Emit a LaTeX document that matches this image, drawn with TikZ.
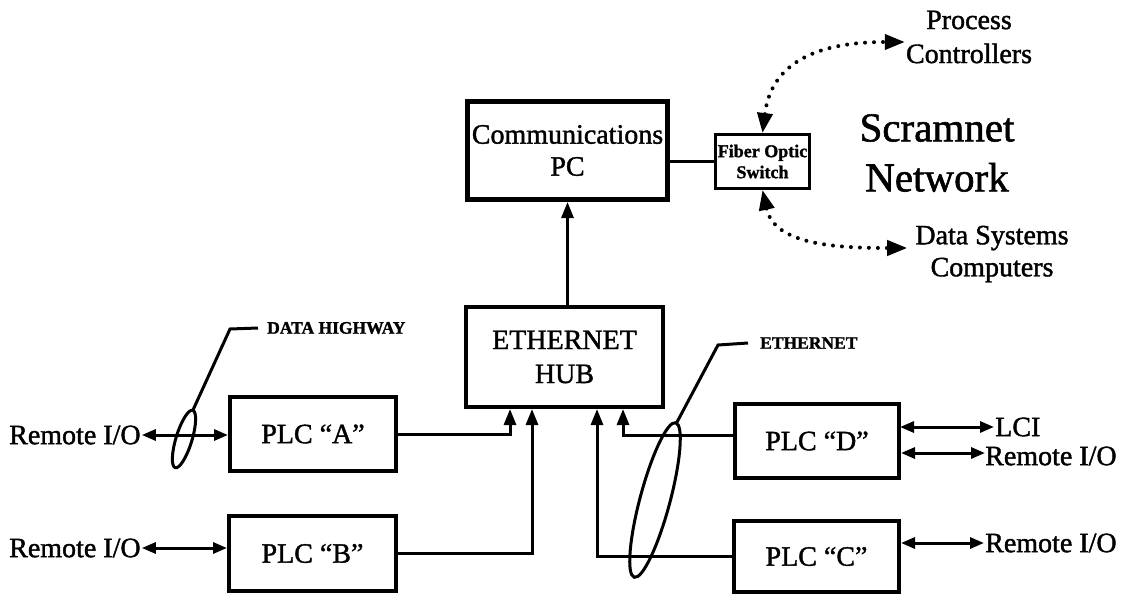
\documentclass[tikz,border=0pt]{standalone}
\usepackage{fontspec}
\setmainfont{Liberation Serif}[FakeBold=1.4]
\usetikzlibrary{arrows.meta}
\begin{document}
\begin{tikzpicture}[x=1pt,y=-1pt,
  box/.style={draw, line width=4pt, inner sep=0pt, font=\fontsize{28}{32}\selectfont, align=center},
  conn/.style={line width=3pt},
  uptip/.style={-{Triangle[length=16pt,width=12pt]}},
  dtip/.style={{Triangle[length=14pt,width=11pt]}-{Triangle[length=14pt,width=11pt]}},
  dotline/.style={line width=4pt, line cap=round, dash pattern=on 0pt off 9pt,
     {Triangle[length=20pt,width=15pt]}-{Triangle[length=20pt,width=15pt]}},
  lbl/.style={font=\fontsize{28}{34}\selectfont, align=center, inner sep=1pt},
  tag/.style={font=\bfseries\fontsize{17.5}{20}\selectfont, inner sep=0pt},
]
\useasboundingbox (0,0) rectangle (1123,596);

% boxes
\node[box, line width=5pt, minimum width=200pt, minimum height=98pt] (pc) at (567.5,150.5)
  {Communications\\PC};
\node[box, line width=3pt, minimum width=94pt, minimum height=54pt,
      font=\bfseries\fontsize{18}{21}\selectfont] (sw) at (762.5,161.5) {Fiber Optic\\Switch};
\node[box, minimum width=197pt, minimum height=100pt, font=\fontsize{28}{34}\selectfont] (hub) at (564.5,357) {ETHERNET\\HUB};
\node[box, minimum width=166pt, minimum height=74pt] (A) at (313,434) {PLC “A”};
\node[box, minimum width=167pt, minimum height=75pt] (B) at (312.5,553.5) {PLC “B”};
\node[box, minimum width=164pt, minimum height=74pt] (D) at (817,441) {PLC “D”};
\node[box, minimum width=165pt, minimum height=71pt] (C) at (816.5,556.5) {PLC “C”};

% labels
\node[lbl] (proc) at (969,37) {Process\\Controllers};
\node[lbl, font=\fontsize{41}{50}\selectfont] (scr) at (937,153) {Scramnet\\Network};
\node[lbl, font=\fontsize{28}{32}\selectfont] (dsc) at (992,254) {Data Systems\\Computers};
\node[tag, anchor=west] (dh) at (267,328) {DATA HIGHWAY};
\node[tag, anchor=west] (eth) at (760,343) {ETHERNET};
\node[lbl, anchor=west] (rioA) at (8,435) {Remote I/O};
\node[lbl, anchor=west] (rioB) at (8,548) {Remote I/O};
\node[lbl, anchor=west, inner sep=0pt] (lci) at (995,427) {LCI};
\node[lbl, anchor=west, inner sep=0pt] (rioD) at (985,456) {Remote I/O};
\node[lbl, anchor=west] (rioC) at (984,543) {Remote I/O};

% connectors
\draw[conn, uptip] (pc.south |- hub.north) -- (pc.south);
\draw[conn] (sw.west -| pc.east) -- (sw.west);
\draw[conn, uptip] (A.east) -| ([xshift=-54.5pt]hub.south);
\draw[conn, uptip] (B.east) -| ([xshift=-32.5pt]hub.south);
\draw[conn, uptip] (C.west) -| ([xshift=32.5pt]hub.south);
\draw[conn, uptip] ([yshift=6pt]D.west) -| ([xshift=58.5pt]hub.south);

\draw[conn, dtip] (rioA.east) -- (rioA.east -| A.west);
\draw[conn, dtip] (rioB.east) -- (rioB.east -| B.west);
\draw[conn, dtip] ([xshift=-1pt]lci.west -| D.east) -- ([xshift=-1pt]lci.west);
\draw[conn, dtip] ([yshift=3pt]rioD.west -| D.east) -- ([yshift=3pt]rioD.west);
\draw[conn, dtip] (rioC.west -| C.east) -- (rioC.west);

% dotted scramnet links
\draw[dotline] (sw.north) .. controls +(10,-80) and +(-70,0) .. ([yshift=-5pt]proc.west);
\draw[dotline] (sw.south) .. controls +(12,55) and +(-70,0) .. ([xshift=-7pt,yshift=6pt]dsc.west);

% cable bundles
\draw[line width=3pt] (184,439) ellipse [x radius=30pt, y radius=8pt, rotate=73];
\draw[line width=3pt] (193,410) -- (230,329) -- ([xshift=-9pt]dh.west);
\draw[line width=3pt] (655,500) ellipse [x radius=80pt, y radius=15pt, rotate=75];
\draw[line width=3pt] (676,424) -- (718,345) -- ([xshift=-12pt]eth.west);
\end{tikzpicture}
\end{document}
